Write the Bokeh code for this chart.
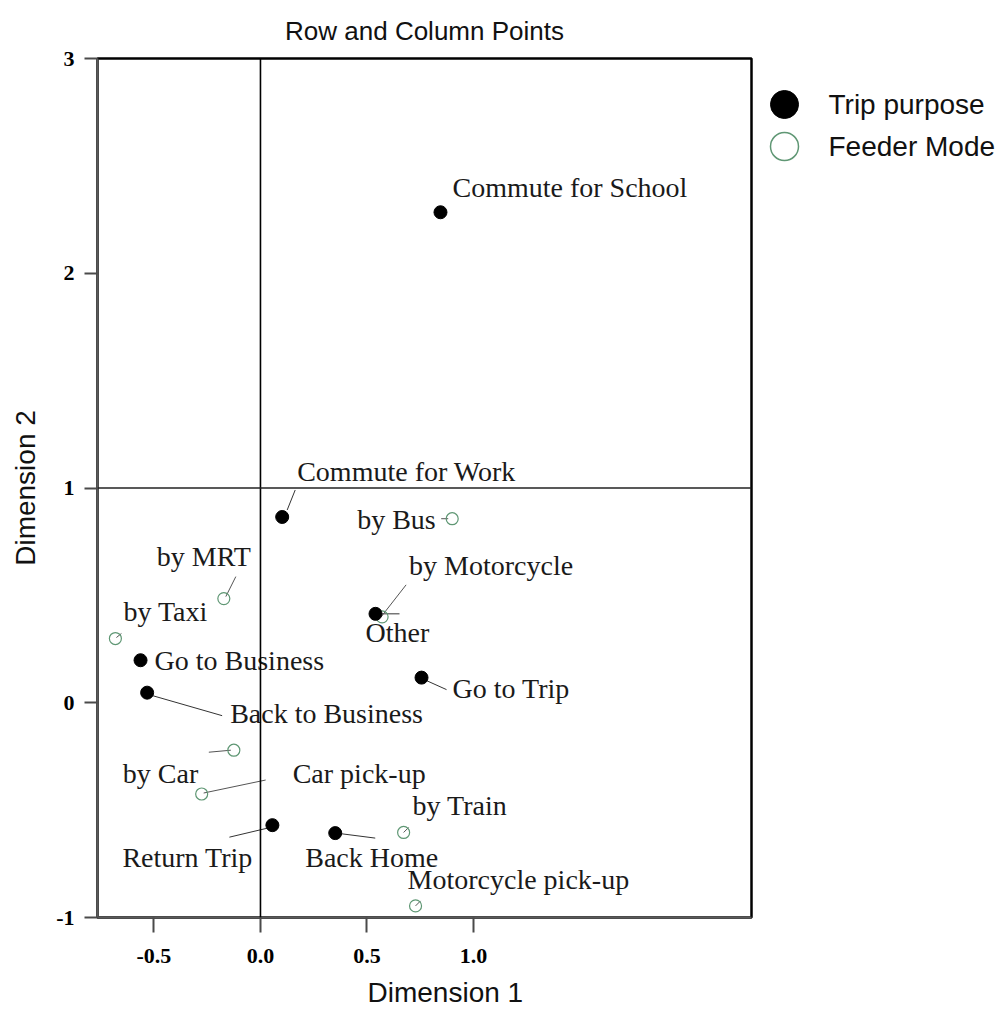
from bokeh.plotting import figure
from bokeh.models import Range1d, FixedTicker, Span, ColumnDataSource, Title
from bokeh.layouts import row
from bokeh.core.properties import value
from bokeh.embed import file_html
from bokeh.resources import INLINE

# ---- data: correspondence analysis coordinates ----
purpose_labels = ["Commute for School", "Commute for Work", "Other", "Go to Trip",
                  "Go to Business", "Back to Business", "Return Trip", "Back Home"]
purpose_dim1 = [0.845, 0.102, 0.540, 0.756, -0.563, -0.532, 0.056, 0.351]
purpose_dim2 = [2.284, 0.865, 0.414, 0.117, 0.198, 0.047, -0.570, -0.607]

mode_labels = ["by Bus", "by MRT", "by Taxi", "by Motorcycle", "by Car",
               "Car pick-up", "by Train", "Motorcycle pick-up"]
mode_dim1 = [0.900, -0.172, -0.681, 0.571, -0.125, -0.276, 0.672, 0.728]
mode_dim2 = [0.857, 0.485, 0.299, 0.400, -0.221, -0.425, -0.604, -0.946]

x_ticks = [-0.5, 0.0, 0.5, 1.0]
x_tick_labels = ["-0.5", "0.0", "0.5", "1.0"]
y_ticks = [-1, 0, 1, 2, 3]
y_tick_labels = ["-1", "0", "1", "2", "3"]

# ---- layout ----
X_RANGE = (-0.765, 2.305)
Y_RANGE = (-1.0, 3.0)
MAIN_W, LEG_W, H = 760, 243, 1022
B_LEFT, B_RIGHT, B_TOP, B_BOTTOM = 97, 9, 58, 105
FRAME_W = MAIN_W - B_LEFT - B_RIGHT
FRAME_H = H - B_TOP - B_BOTTOM
PX_X = FRAME_W / (X_RANGE[1] - X_RANGE[0])
PX_Y = FRAME_H / (Y_RANGE[1] - Y_RANGE[0])

# label anchor offsets (px right, px down) from each point, and leader lines
purpose_offsets = [(12, -25), (15, -45), (-10, 19), (31, 11), (14, 0), (83, 21), (-150, 32), (-30, 24)]
purpose_leaders = [None, (5, -7, 13, -27), (2, 0, 24, 0), (5, 3, 25, 12), None,
                   (2, 2, 75, 23), (-43, 12, -5, 3), (1, 0, 40, 5)]
mode_offsets = [(-95, 1), (-67, -42), (8, -27), (27, -51), (-111, 23), (91, -21), (9, -27), (-8, -26)]
mode_leaders = [(-11, 0, -4, 0), (2, -2, 12, -22), (1, -1, 6, -5), (-1, 0, 24, -32),
                (-25, 2, -3, 0), (2, -1, 64, -14), (0, 0, 5, -5), (0, 0, 5, -5)]

LABEL_FONT = value("Liberation Serif")
SANS = "Liberation Sans"
MODE_COLOR = "#5f9774"

p = figure(width=MAIN_W, height=H, x_range=Range1d(*X_RANGE), y_range=Range1d(*Y_RANGE),
           output_backend="svg", toolbar_location=None,
           min_border_left=B_LEFT, min_border_right=B_RIGHT,
           min_border_top=B_TOP, min_border_bottom=B_BOTTOM,
           title="Row and Column Points")
p.title.align = "center"
p.title.text_font = SANS
p.title.text_font_size = "26px"
p.title.text_font_style = "normal"
p.title.text_color = "#111111"
p.title.standoff = 26

p.xgrid.visible = False
p.ygrid.visible = False
p.outline_line_color = "black"
p.outline_line_width = 2.5
p.background_fill_color = "white"
p.border_fill_color = "white"

for ax in (p.xaxis[0], p.yaxis[0]):
    ax.axis_line_color = "#5a5a5a"
    ax.axis_line_width = 2
    ax.major_tick_line_color = "#4a4a4a"
    ax.major_tick_line_width = 2
    ax.major_tick_in = 0
    ax.minor_tick_line_color = None
    ax.major_label_text_font = "Liberation Serif"
    ax.major_label_text_font_style = "bold"
    ax.major_label_text_font_size = "22px"
    ax.major_label_text_color = "black"

p.xaxis.ticker = FixedTicker(ticks=x_ticks)
p.xaxis.major_label_overrides = {t: s for t, s in zip(x_ticks, x_tick_labels)}
p.xaxis.major_tick_out = 15
p.xaxis.major_label_standoff = 16

p.yaxis.ticker = FixedTicker(ticks=y_ticks)
p.yaxis.major_label_overrides = {t: s for t, s in zip(y_ticks, y_tick_labels)}
p.yaxis.major_tick_out = 13
p.yaxis.major_label_standoff = 10
p.yaxis.axis_label = "Dimension 2"
p.yaxis.axis_label_text_font = SANS
p.yaxis.axis_label_text_font_style = "normal"
p.yaxis.axis_label_text_font_size = "28px"
p.yaxis.axis_label_text_color = "#111111"
p.yaxis.axis_label_standoff = 12

# horizontal axis title, left-aligned with a pixel offset from the frame's left edge
x_title = Title(text="Dimension 1", align="left", offset=270, text_font=SANS,
                text_font_size="28px", text_font_style="normal", text_color="#111111",
                standoff=18)
p.add_layout(x_title, "below")

# reference lines through the origin column and Dimension 2 = 1
p.add_layout(Span(location=0, dimension="height", line_color="black", line_width=1.6))
p.add_layout(Span(location=1, dimension="width", line_color="#222222", line_width=1.6))


def leader_segments(xs, ys, leaders):
    x0, y0, x1, y1 = [], [], [], []
    for x, y, ld in zip(xs, ys, leaders):
        if ld is None:
            continue
        sx, sy, ex, ey = ld
        x0.append(x + sx / PX_X)
        y0.append(y - sy / PX_Y)
        x1.append(x + ex / PX_X)
        y1.append(y - ey / PX_Y)
    return dict(x0=x0, y0=y0, x1=x1, y1=y1)


# leader lines
p.segment(source=ColumnDataSource(leader_segments(purpose_dim1, purpose_dim2, purpose_leaders)),
          x0="x0", y0="y0", x1="x1", y1="y1", line_color="#333333", line_width=1)
p.segment(source=ColumnDataSource(leader_segments(mode_dim1, mode_dim2, mode_leaders)),
          x0="x0", y0="y0", x1="x1", y1="y1", line_color="#555555", line_width=1)

# points
p.scatter(mode_dim1, mode_dim2, marker="circle", size=12, fill_color=None,
          line_color=MODE_COLOR, line_width=1.2)
p.scatter(purpose_dim1, purpose_dim2, marker="circle", size=13, fill_color="black",
          line_color="black")

# point labels
for xs, ys, labels, offsets in ((purpose_dim1, purpose_dim2, purpose_labels, purpose_offsets),
                                (mode_dim1, mode_dim2, mode_labels, mode_offsets)):
    src = ColumnDataSource(dict(x=xs, y=ys, text=labels,
                                dx=[o[0] for o in offsets], dy=[o[1] for o in offsets]))
    p.text(x="x", y="y", text="text", x_offset="dx", y_offset="dy", source=src,
           text_font=LABEL_FONT, text_font_size="28px", text_color="#1a1a1a",
           text_align="left", text_baseline="alphabetic")

# ---- legend panel (its frame is aligned with the main frame, so use page pixels) ----
leg = figure(width=LEG_W, height=H, x_range=Range1d(0, LEG_W),
             y_range=Range1d(H - B_BOTTOM, B_TOP),
             output_backend="svg", toolbar_location=None,
             x_axis_location=None, y_axis_location=None,
             min_border_left=0, min_border_right=0,
             min_border_top=B_TOP, min_border_bottom=B_BOTTOM)
leg.xgrid.visible = False
leg.ygrid.visible = False
leg.outline_line_color = None
leg.border_fill_color = "white"

legend_names = ["Trip purpose", "Feeder Mode"]
leg_x, leg_y = [24, 24], [104, 146]
leg.scatter(leg_x[:1], leg_y[:1], marker="circle", size=28, fill_color="black", line_color="black")
leg.scatter(leg_x[1:], leg_y[1:], marker="circle", size=28, fill_color=None,
            line_color=MODE_COLOR, line_width=1.5)
leg.text(x=[68, 68], y=leg_y, text=legend_names, text_font=value(SANS), text_font_size="28px",
         text_color="#111111", text_align="left", text_baseline="middle")

layout = row(p, leg, spacing=0)
open("out.html", "w").write(file_html(layout, INLINE))
